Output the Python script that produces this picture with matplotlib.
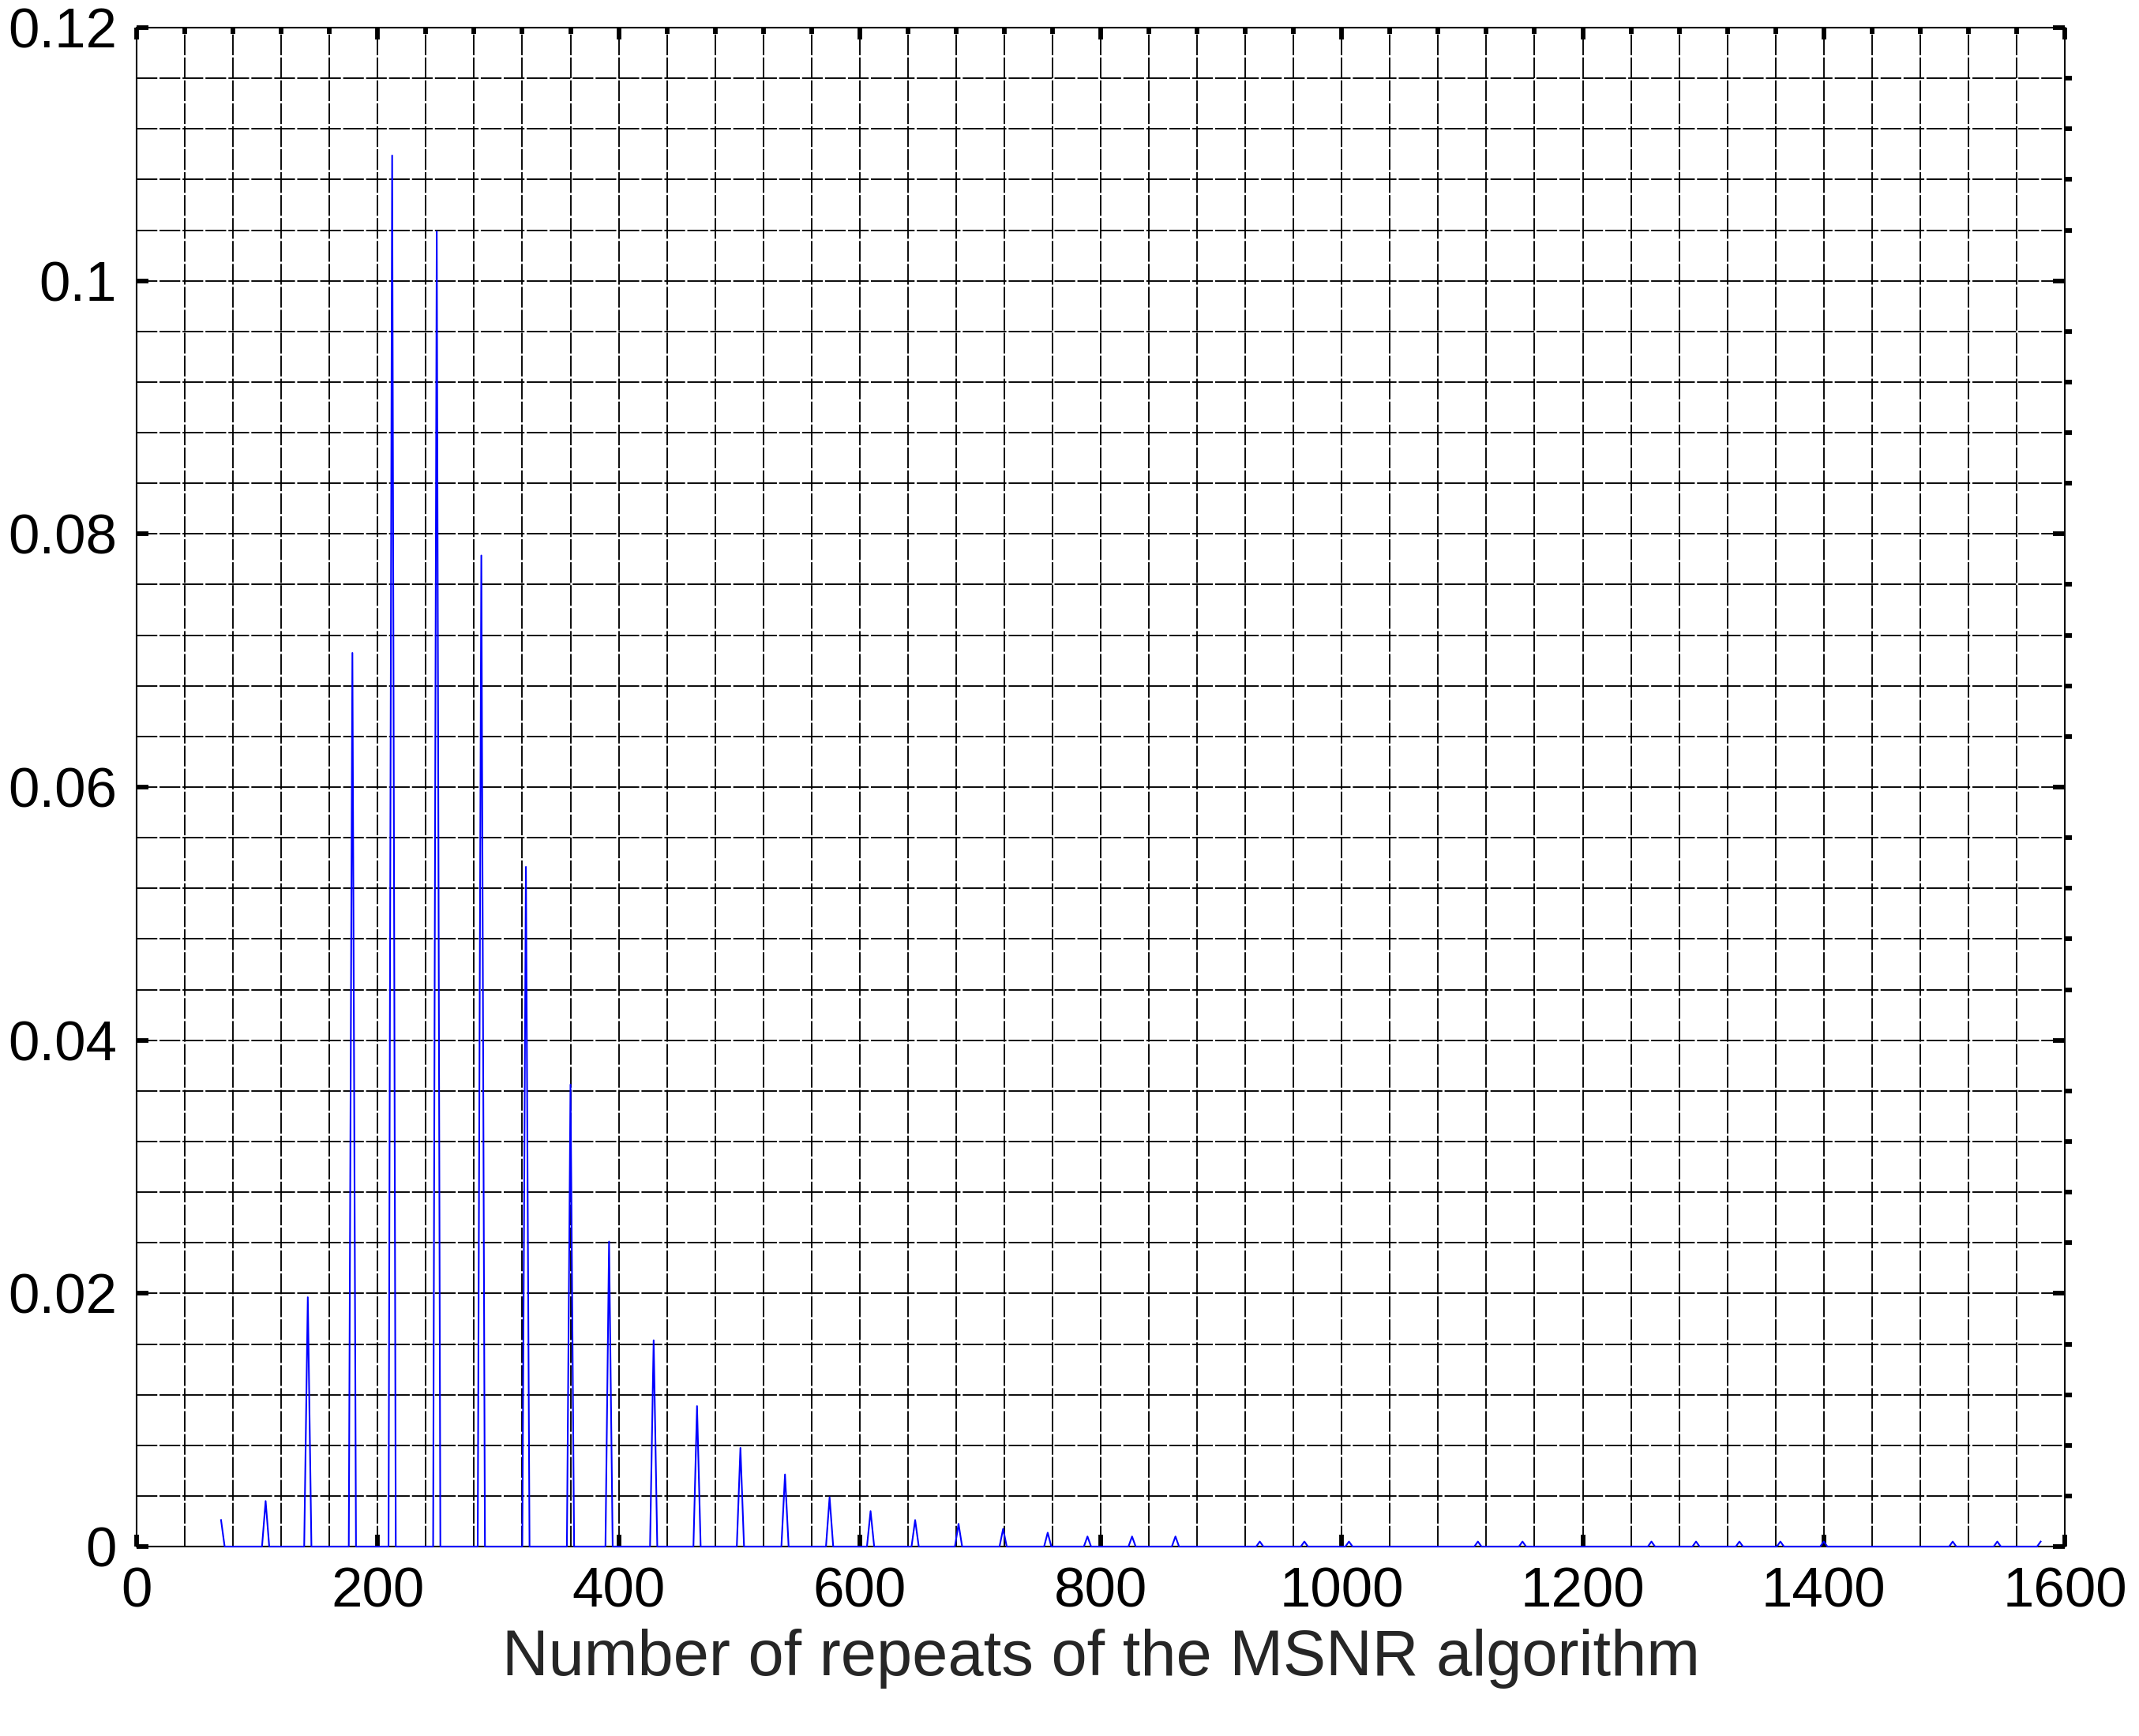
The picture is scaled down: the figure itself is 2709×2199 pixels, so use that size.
import numpy as np
import matplotlib
matplotlib.use("Agg")
import matplotlib.pyplot as plt
from matplotlib.ticker import MultipleLocator

# Datos: posicion de cada pico y su altura
pico_x = [70, 107, 142, 179, 212, 249, 286, 323, 360, 392, 429, 465, 501,
          538, 575, 609, 646, 682, 719, 756, 789, 826, 862, 932, 969, 1006,
          1113, 1150, 1257, 1294, 1330, 1364, 1400, 1507, 1544, 1580]
pico_y = [0.0021, 0.0036, 0.0197, 0.0706, 0.1099, 0.1039, 0.0783, 0.0537,
          0.0365, 0.0241, 0.0163, 0.0111, 0.0078, 0.0057, 0.0039, 0.0028,
          0.0021, 0.0018, 0.0014, 0.0011, 0.0008, 0.0008, 0.0008, 0.0004,
          0.0004, 0.0004, 0.0004, 0.0004, 0.0004, 0.0004, 0.0004, 0.0004,
          0.0004, 0.0004, 0.0004, 0.0004]

x_ticks = [0, 200, 400, 600, 800, 1000, 1200, 1400, 1600]
y_ticks = [0, 0.02, 0.04, 0.06, 0.08, 0.1, 0.12]
y_labels = ["0", "0.02", "0.04", "0.06", "0.08", "0.1", "0.12"]
x_titulo = "Number of repeats of the MSNR algorithm"

# Cada pico es un triangulo angosto sobre la linea base y = 0
semi = 3
x_eje, y_eje = [], []
for i, (xp, yp) in enumerate(zip(pico_x, pico_y)):
    if i > 0:
        x_eje.append(xp - semi)
        y_eje.append(0)
    x_eje.append(xp)
    y_eje.append(yp)
    if i < len(pico_x) - 1:
        x_eje.append(xp + semi)
        y_eje.append(0)

plt.rcParams['font.family'] = ['Liberation Sans', 'DejaVu Sans']

fig = plt.figure(figsize=(2709 / 300, 2199 / 300), dpi=300)
ax = fig.add_axes([0.0639, 0.1091, 0.9014, 0.8750])

ax.plot(x_eje, y_eje, color='#0000ff', linewidth=0.5, zorder=5, clip_on=False)

ax.set_xlim(0, 1600)
ax.set_ylim(0, 0.12)
ax.set_xticks(x_ticks)
ax.set_yticks(y_ticks)
ax.set_yticklabels(y_labels)
ax.xaxis.set_minor_locator(MultipleLocator(40))
ax.yaxis.set_minor_locator(MultipleLocator(0.004))

ax.grid(True, which='both', color='black', linewidth=0.45, linestyle=(0, (14, 1.5)))
ax.set_axisbelow(True)

ax.tick_params(which='major', direction='in', length=3.5, width=1.4,
               labelsize=17, pad=6, top=True, right=True)
ax.tick_params(axis='x', which='minor', direction='in', length=1.8, width=1.4,
               bottom=False, top=True)
ax.tick_params(axis='y', which='minor', direction='out', length=2.2, width=1.4,
               left=False, right=True)

for s in ax.spines.values():
    s.set_linewidth(0.5)

ax.set_xlabel(x_titulo, fontsize=19.5, color='#262626', labelpad=3)

fig.savefig("out.png", dpi=300)
